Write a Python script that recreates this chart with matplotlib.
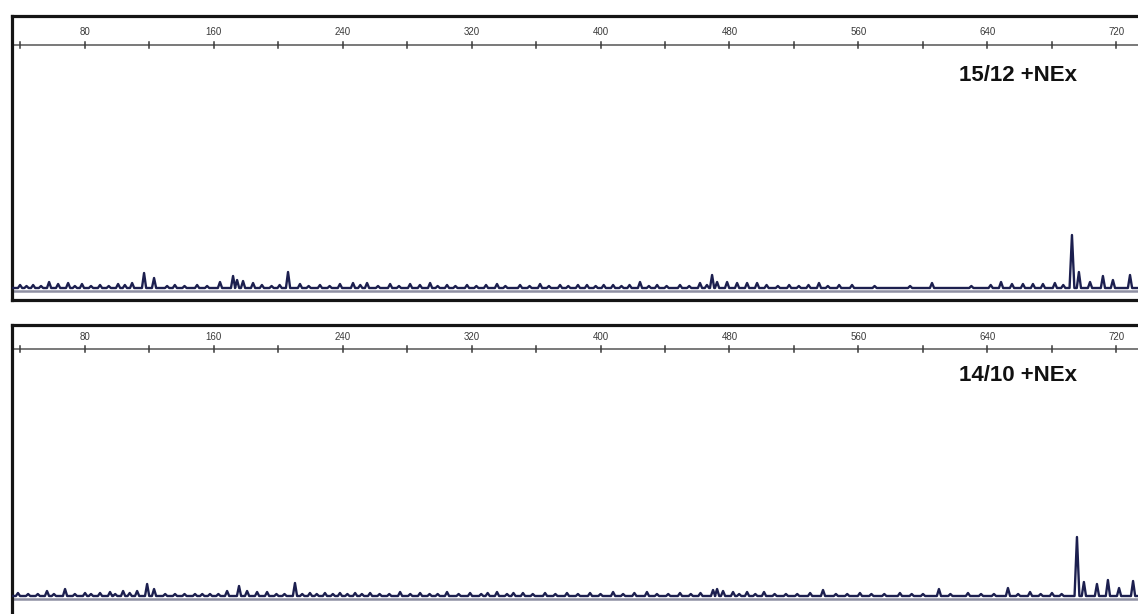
import numpy as np
import matplotlib
matplotlib.use("Agg")
import matplotlib.pyplot as plt

# =====================
# Peak tables (size in bp, height in signal units)
# =====================
top_sizes = [40.0, 44.0, 48.1, 53.0, 58.0, 63.6, 69.8, 74.0, 78.4, 84.0,
             89.6, 95.0, 100.8, 105.0, 109.5, 116.9, 123.1, 131.2, 136.0, 142.0,
             149.8, 156.0, 164.0, 172.1, 174.6, 178.3, 184.5, 190.0, 196.0, 201.0,
             206.2, 213.6, 219.0, 226.0, 232.0, 238.4, 246.5, 251.0, 255.2, 262.0,
             269.5, 275.0, 281.9, 288.0, 294.3, 299.0, 304.8, 310.0, 317.2, 323.0,
             329.0, 335.8, 341.0, 350.1, 356.0, 362.5, 368.0, 374.9, 380.0, 386.0,
             391.6, 397.0, 402.0, 407.8, 413.0, 418.0, 424.5, 430.0, 435.1, 441.0,
             449.3, 455.0, 461.7, 466.0, 469.2, 472.3, 478.5, 484.7, 490.9, 497.1,
             503.0, 510.0, 517.0, 523.0, 529.0, 535.5, 541.0, 548.0, 556.0, 570.0,
             592.0, 605.6, 630.0, 642.0, 648.4, 655.2, 662.0, 668.2, 674.4, 681.8,
             687.0, 692.4, 696.7, 703.6, 711.6, 717.8, 728.4]
top_heights = [3, 2, 3, 2, 6, 4, 5, 2, 4, 2,
               3, 2, 4, 3, 5, 15, 10, 2, 3, 2,
               3, 2, 6, 12, 8, 7, 5, 3, 2, 3,
               16, 4, 2, 3, 2, 4, 5, 3, 5, 2,
               4, 2, 4, 3, 5, 2, 3, 2, 3, 2,
               3, 4, 2, 3, 2, 4, 2, 3, 2, 3,
               3, 2, 3, 3, 2, 3, 6, 2, 3, 2,
               3, 2, 5, 3, 13, 6, 6, 5, 5, 5,
               3, 2, 3, 2, 3, 5, 2, 3, 3, 2,
               2, 5, 2, 3, 6, 4, 4, 4, 4, 5,
               3, 53, 16, 6, 12, 8, 13]

bottom_sizes = [38.7, 45.0, 51.0, 56.7, 61.0, 67.9, 74.0, 80.3, 84.0, 89.6,
                95.8, 99.0, 103.9, 108.0, 112.6, 118.8, 123.1, 130.0, 136.1, 142.0,
                148.5, 153.0, 157.8, 163.0, 168.4, 175.8, 180.8, 187.0, 193.2, 199.0,
                204.0, 210.5, 215.0, 219.8, 224.0, 229.1, 234.0, 238.4, 243.0, 247.8,
                252.0, 257.1, 263.0, 269.0, 275.7, 282.0, 288.1, 294.0, 299.0, 304.8,
                312.0, 319.1, 326.0, 330.0, 335.8, 342.0, 346.0, 351.9, 358.0, 365.6,
                372.0, 379.2, 386.0, 393.5, 400.0, 407.8, 414.0, 421.0, 428.8, 435.0,
                442.0, 449.3, 456.0, 462.0, 469.8, 472.3, 476.0, 482.2, 486.0, 490.9,
                496.0, 501.4, 508.0, 515.0, 522.0, 530.0, 538.0, 546.0, 553.0, 560.9,
                568.0, 576.0, 585.7, 593.0, 600.0, 609.9, 617.0, 627.9, 636.0, 644.0,
                652.7, 659.0, 666.4, 673.0, 680.0, 686.0, 695.5, 699.8, 707.9, 714.7,
                721.6, 730.3]
bottom_heights = [3, 2, 2, 5, 2, 7, 2, 3, 2, 3,
                  4, 2, 5, 3, 5, 12, 7, 2, 2, 2,
                  2, 2, 2, 2, 5, 10, 5, 4, 4, 2,
                  2, 13, 2, 3, 2, 3, 2, 3, 2, 3,
                  2, 3, 2, 2, 4, 2, 3, 2, 2, 4,
                  2, 3, 2, 3, 4, 2, 3, 3, 2, 3,
                  2, 3, 2, 3, 2, 4, 2, 3, 4, 2,
                  2, 3, 2, 3, 6, 7, 5, 4, 2, 4,
                  2, 4, 2, 2, 2, 3, 6, 2, 2, 3,
                  2, 2, 3, 2, 2, 7, 2, 3, 2, 2,
                  8, 2, 4, 2, 3, 2, 59, 14, 12, 16,
                  8, 15]

sample_names = ["15/12 +NEx", "14/10 +NEx"]
ruler_ticks = list(range(40, 760, 40))
ruler_labels = list(range(80, 760, 80))

trace_color = "#1c1f4f"
base_color = "#8f90a3"


def trace_points(sizes, heights):
    # build the line as baseline -> apex -> baseline for every peak
    xs, ys = [35.0], [0.0]
    for s, h in zip(sizes, heights):
        w = 1.5 if h > 20 else 1.3
        xs += [s - w, s, s + w]
        ys += [0.0, h, 0.0]
    xs.append(745.0)
    ys.append(0.0)
    return xs, ys


fig = plt.figure(figsize=(11.38, 6.14), dpi=100)
fig.patch.set_facecolor("white")

# axes placed in figure fractions, right side runs off the page
panels = [
    dict(rect=[12 / 1138, 314 / 614, 1.0, 284 / 614], ylim=(-12, 272),
         ruler=0.898, lab=0.944, name=0.789,
         sizes=top_sizes, heights=top_heights),
    dict(rect=[12 / 1138, -11 / 614, 1.0, 300 / 614], ylim=(-29, 271),
         ruler=0.92, lab=0.96, name=0.833,
         sizes=bottom_sizes, heights=bottom_heights),
]

for p, name in zip(panels, sample_names):
    ax = fig.add_axes(p["rect"])
    ax.set_xlim(35, 740.8)
    ax.set_ylim(*p["ylim"])
    ax.set_xticks([])
    ax.set_yticks([])
    for sp in ax.spines.values():
        sp.set_linewidth(2.3)
        sp.set_color("#151515")

    xs, ys = trace_points(p["sizes"], p["heights"])
    ax.axhline(-2.8, color=base_color, lw=1.8, zorder=2)
    ax.plot(xs, ys, color=trace_color, lw=1.7, zorder=3)

    # size ruler along the top
    tr = ax.get_xaxis_transform()
    ax.plot([35, 745], [p["ruler"], p["ruler"]], color="#555555", lw=1.1,
            transform=tr)
    for t in ruler_ticks:
        ax.plot([t, t], [p["ruler"] - 0.009, p["ruler"] + 0.009],
                color="#3a3a3a", lw=1.1, transform=tr)
    for t in ruler_labels:
        ax.text(t, p["lab"], str(t), transform=tr, ha="center", va="center",
                fontsize=7, color="#3a3a3a", family="Liberation Sans")

    ax.text(658.9, p["name"], name, transform=tr, ha="center", va="center",
            fontsize=16, fontweight="bold", color="#111111",
            family="Liberation Sans")

fig.savefig("out.png", dpi=100, facecolor="white")
